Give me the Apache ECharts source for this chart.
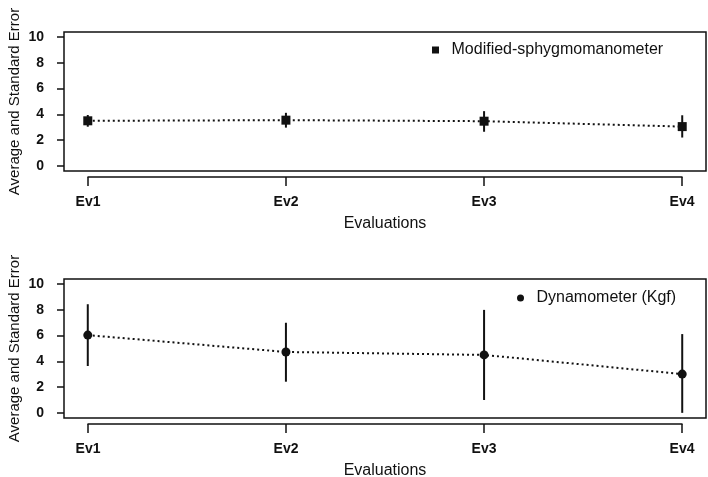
<!DOCTYPE html>
<html>
<head>
<meta charset="utf-8">
<script src="https://cdn.jsdelivr.net/npm/echarts@6/dist/echarts.min.js"></script>
<style>html,body{margin:0;padding:0;background:#fff;}#c{width:708px;height:477px;}</style>
</head>
<body>
<div id="c"></div>
<script>
const categories = ['Ev1', 'Ev2', 'Ev3', 'Ev4'];
const yTicks = [0, 2, 4, 6, 8, 10];
const sphygName = 'Modified-sphygmomanometer';
const sphygMean = [3.5, 3.55, 3.47, 3.05];
const sphygLow = [3.04, 2.97, 2.65, 2.2];
const sphygHigh = [3.95, 4.12, 4.25, 3.93];
const dynaName = 'Dynamometer (Kgf)';
const dynaMean = [6.04, 4.73, 4.5, 3.01];
const dynaLow = [3.64, 2.42, 1.0, 0.0];
const dynaHigh = [8.44, 7.0, 8.0, 6.12];

const FONT = 'Liberation Sans, Arial, Helvetica, sans-serif';
const INK = '#111';

function pts(vals) { return vals.map((v, i) => [i + 1, v]); }
function bars(lo, hi) { return lo.map((v, i) => [i + 1, v, hi[i]]); }

const panels = [
  { top: 32, mean: sphygMean, lo: sphygLow, hi: sphygHigh, name: sphygName, symbol: 'rect', legendLeft: 427, legendTop: 37 },
  { top: 279, mean: dynaMean, lo: dynaLow, hi: dynaHigh, name: dynaName, symbol: 'circle', legendLeft: 512, legendTop: 285 }
];

const grid = [], xAxis = [], yAxis = [], series = [], legend = [];
panels.forEach((p, k) => {
  grid.push({ left: 64, width: 642, top: p.top, height: 139, show: true, borderColor: INK, borderWidth: 1.5,
    backgroundColor: 'transparent', containLabel: false, outerBoundsMode: 'none' });
  grid.push({ left: 88, width: 594, top: p.top, height: 139, show: false, containLabel: false, outerBoundsMode: 'none' });
  const g = k * 2;
  xAxis.push({ gridIndex: g, type: 'value', min: 0.88, max: 4.12, show: false });
  yAxis.push({
    gridIndex: g, type: 'value', min: -0.4, max: 10.4,
    axisLine: { show: false },
    axisTick: { show: true, customValues: yTicks, length: 7, lineStyle: { color: INK, width: 1.5 } },
    axisLabel: { customValues: yTicks, margin: 20, fontSize: 14, fontWeight: 'bold', color: INK, fontFamily: FONT },
    splitLine: { show: false },
    name: 'Average and Standard Error', nameLocation: 'middle', nameGap: 42, nameMoveOverlap: false,
    nameTextStyle: { fontSize: 15, color: INK, fontFamily: FONT }
  });
  xAxis.push({
    gridIndex: g + 1, type: 'value', min: 1, max: categories.length, interval: 1, offset: 6,
    axisLine: { show: true, onZero: false, lineStyle: { color: INK, width: 1.5 } },
    axisTick: { show: true, length: 9, lineStyle: { color: INK, width: 1.5 } },
    axisLabel: { margin: 18, fontSize: 14, fontWeight: 'bold', color: INK, fontFamily: FONT,
      formatter: v => categories[Math.round(v) - 1] || '' },
    splitLine: { show: false },
    name: 'Evaluations', nameLocation: 'middle', nameGap: 39, nameMoveOverlap: false,
    nameTextStyle: { fontSize: 16, color: INK, fontFamily: FONT }
  });
  yAxis.push({ gridIndex: g + 1, type: 'value', min: 0, max: 1, show: false });

  series.push({
    type: 'custom', xAxisIndex: k * 2, yAxisIndex: k * 2, z: 2,
    data: bars(p.lo, p.hi),
    renderItem: (params, api) => {
      const a = api.coord([api.value(0), api.value(1)]);
      const b = api.coord([api.value(0), api.value(2)]);
      return { type: 'line', shape: { x1: a[0], y1: a[1], x2: b[0], y2: b[1] }, style: { stroke: INK, lineWidth: 2 } };
    },
    silent: true
  });
  series.push({
    type: 'line', name: p.name, xAxisIndex: k * 2, yAxisIndex: k * 2, z: 3,
    data: pts(p.mean),
    symbol: p.symbol, symbolSize: 9, showSymbol: true,
    itemStyle: { color: INK },
    lineStyle: { color: INK, width: 2, type: [2, 3] },
    animation: false
  });
  legend.push({
    data: [{ name: p.name, icon: p.symbol }],
    left: p.legendLeft, top: p.legendTop, orient: 'vertical',
    itemWidth: 7, itemHeight: 7,
    textStyle: { fontSize: 16, color: INK, fontFamily: FONT, padding: [0, 0, 0, 7.5] },
    selectedMode: false
  });
});

const chart = echarts.init(document.getElementById('c'), null, { renderer: 'canvas' });
chart.setOption({ animation: false, backgroundColor: '#fff', grid, xAxis, yAxis, series, legend });
</script>
</body>
</html>
